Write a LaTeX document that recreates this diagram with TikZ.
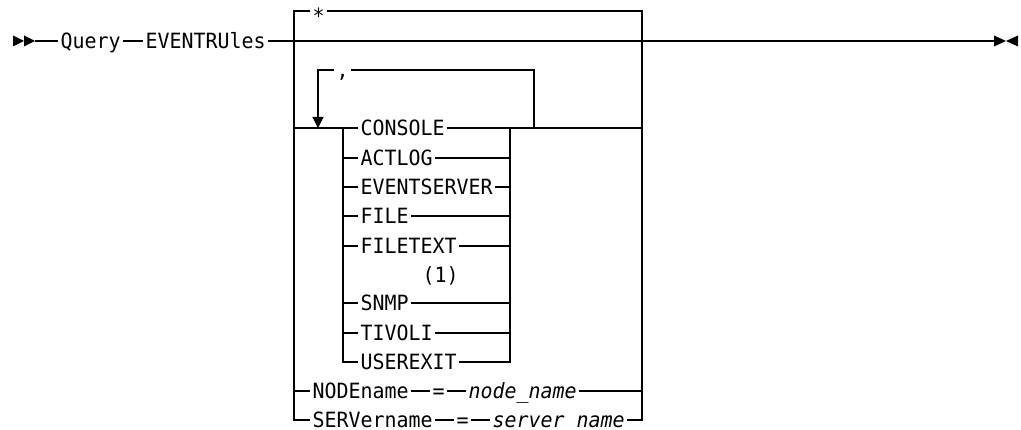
\documentclass[tikz,border=0pt]{standalone}
\usepackage{fontspec}
\usetikzlibrary{arrows.meta}
\newfontfamily\rrmono[FakeStretch=0.95]{DejaVu Sans Mono}
\begin{document}
\begin{tikzpicture}[x=1pt,y=-1pt,line width=1.2pt,
  kw/.style={font=\rrmono\fontsize{21}{25}\selectfont,inner xsep=2pt,inner ysep=0pt,
             text height=15.3pt,text depth=0pt,anchor=west},
  var/.style={kw,font=\rrmono\itshape\fontsize{21}{25}\selectfont},
  starkw/.style={kw,text height=24.2pt},
  loopdown/.style={-{Triangle[length=11pt,width=11pt]}}]
\useasboundingbox (0,0) rectangle (1021,430);

% main line texts
\node[kw] (query) at (58,41) {Query};
\node[kw] (evt) at (143,41) {EVENTRUles};
\node[starkw] (star) at (310,11) {*};
\node[kw] (comma) at (334,70) {,};

% stack
\node[kw] (console) at (358,128) {CONSOLE};
\node[kw] (actlog) at (358,158) {ACTLOG};
\node[kw] (evsrv) at (358,187) {EVENTSERVER};
\node[kw] (file) at (358,216) {FILE};
\node[kw] (filetext) at (358,246) {FILETEXT};
\node[kw] (fn) at (420,275) {(1)};
\node[kw] (snmp) at (358,303) {SNMP};
\node[kw] (tivoli) at (358,333) {TIVOLI};
\node[kw] (userexit) at (358,362) {USEREXIT};

\node[kw] (nodename) at (310,391) {NODEname};
\node[kw] (eq1) at (430,391) {=};
\node[var] (nodevar) at (466,391) {node\_name};
\node[kw] (servername) at (310,420) {SERVername};
\node[kw] (eq2) at (454,420) {=};
\node[var] (servvar) at (490,420) {server name};

% coordinates
\coordinate (start) at (35,41);
\coordinate (endl) at (994,41);
\coordinate (tl) at (294,11);
\coordinate (tr) at (642,11);
\coordinate (bl) at (294,420);
\coordinate (br) at (642,420);
\coordinate (cl) at (294,128);
\coordinate (cr) at (642,128);
\coordinate (il) at (343,128);
\coordinate (ilb) at (343,362);
\coordinate (ir) at (510,128);
\coordinate (irb) at (510,362);
\coordinate (lpa) at (318,70);
\coordinate (lpd) at (318,128);
\coordinate (lpb) at (534,70);
\coordinate (lpc) at (534,128);
\coordinate (nl) at (294,391);
\coordinate (nr) at (642,391);

% start and end marks
\fill (13,35.5) -- (24,41) -- (13,46.5) -- cycle;
\fill (24,35.5) -- (35,41) -- (24,46.5) -- cycle;
\fill (994,35.5) -- (1006,41) -- (994,46.5) -- cycle;
\fill (1018,35.5) -- (1006,41) -- (1018,46.5) -- cycle;

% main line
\draw (start) -- (query.west);
\draw (query.east) -- (evt.west);
\draw (evt.east) -- (endl);

% outer frame
\draw (star.west) -- (tl) -- (bl) -- (servername.west);
\draw (star.east) -- (tr) -- (br) -- (servvar.east);

% repeat loop
\draw[loopdown] (comma.west) -- (lpa) -- (lpd);
\draw (comma.east) -- (lpb) -- (lpc);

% stack
\draw (cl) -- (console.west);
\draw (console.east) -- (cr);
\draw (il) -- (ilb) -- (userexit.west);
\draw (ir) -- (irb) -- (userexit.east);
\foreach \n in {actlog,evsrv,file,filetext,snmp,tivoli}{
  \draw (\n.west -| il) -- (\n.west);
  \draw (\n.east) -- (\n.east -| ir);
}

% NODEname / SERVername rows
\draw (nl) -- (nodename.west);
\draw (nodename.east) -- (eq1.west);
\draw (eq1.east) -- (nodevar.west);
\draw (nodevar.east) -- (nr);
\draw (servername.east) -- (eq2.west);
\draw (eq2.east) -- (servvar.west);
\end{tikzpicture}
\end{document}
